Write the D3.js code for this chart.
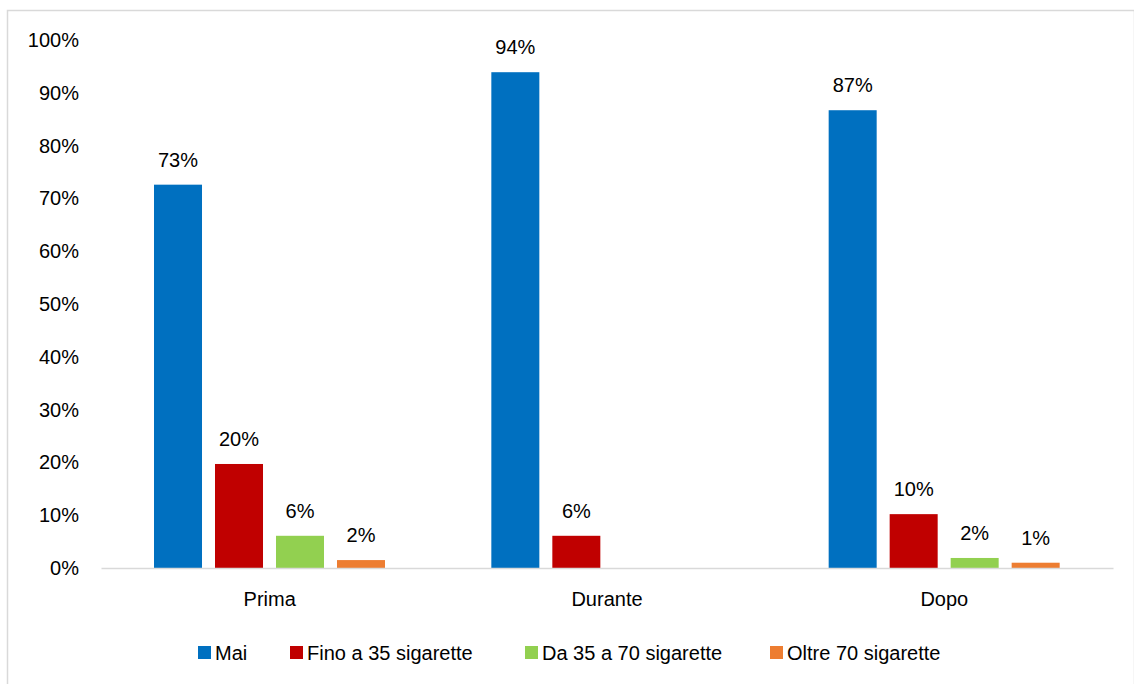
<!DOCTYPE html>
<html>
<head>
<meta charset="utf-8">
<script src="https://cdn.jsdelivr.net/npm/d3@7"></script>
<style>
  html, body { margin: 0; padding: 0; background: #fff; }
  svg { display: block; font-family: "Liberation Sans", Arial, sans-serif; }
</style>
</head>
<body>
<svg id="chart" width="1134" height="684"></svg>
<script>
// Smoking frequency before, during and after (share of respondents)
const categories = ["Prima", "Durante", "Dopo"];
const seriesNames = ["Mai", "Fino a 35 sigarette", "Da 35 a 70 sigarette", "Oltre 70 sigarette"];
const colors = ["#0070C0", "#C00000", "#92D050", "#ED7D31"];
const mai = [0.726, 0.939, 0.867];
const fino35 = [0.197, 0.061, 0.102];
const da35a70 = [0.061, null, 0.019];
const oltre70 = [0.015, null, 0.010];
const yTicks = [0, 0.1, 0.2, 0.3, 0.4, 0.5, 0.6, 0.7, 0.8, 0.9, 1.0];

const seriesValues = [mai, fino35, da35a70, oltre70];

const svg = d3.select("#chart");
const W = 1134, H = 684;
const FONT = 20;

// outer chart frame
svg.append("rect")
  .attr("x", 7.5).attr("y", 10.5)
  .attr("width", W - 7).attr("height", H)
  .attr("fill", "#fff").attr("stroke", "#d9d9d9").attr("stroke-width", 1.5);

const plot = { left: 101, right: 1113, top: 40, bottom: 568 };

const x0 = d3.scaleBand().domain(categories).range([plot.left, plot.right]);
// bars sit in a cluster inside each category band
const clusterStart = 53, clusterWidth = 231;
const x1 = d3.scaleBand().domain(d3.range(seriesNames.length))
  .range([clusterStart, clusterStart + clusterWidth]).paddingInner(0.213).paddingOuter(0);
const y = d3.scaleLinear().domain([0, 1]).range([plot.bottom, plot.top]);

const fmt = d3.format(".0%");

// y axis labels (no line, no ticks)
const yAxis = d3.axisLeft(y).tickValues(yTicks).tickFormat(fmt).tickSize(0).tickPadding(0);
const gy = svg.append("g").attr("transform", `translate(79,0)`).call(yAxis);
gy.select(".domain").remove();
gy.selectAll("text").attr("font-size", FONT).attr("fill", "#000")
  .attr("font-family", "Liberation Sans, Arial, sans-serif");

// bars
const groups = svg.append("g").selectAll("g")
  .data(categories).join("g")
  .attr("transform", d => `translate(${x0(d)},0)`);

groups.each(function(cat, ci) {
  const g = d3.select(this);
  const data = seriesValues.map((vals, si) => ({ si, v: vals[ci] })).filter(d => d.v != null);
  g.selectAll("rect").data(data).join("rect")
    .attr("x", d => x1(d.si))
    .attr("y", d => y(d.v))
    .attr("width", x1.bandwidth())
    .attr("height", d => y(0) - y(d.v))
    .attr("fill", d => colors[d.si]);
  g.selectAll("text").data(data).join("text")
    .attr("x", d => x1(d.si) + x1.bandwidth() / 2)
    .attr("y", d => y(d.v) - 18)
    .attr("text-anchor", "middle")
    .attr("font-size", FONT)
    .attr("fill", "#000")
    .text(d => fmt(d.v));
});

// x axis line and category labels
const xAxis = d3.axisBottom(x0).tickSize(0).tickPadding(0);
const gx = svg.append("g").attr("transform", `translate(0,${plot.bottom})`).call(xAxis);
gx.select(".domain").attr("stroke", "#d9d9d9").attr("stroke-width", 1.5);
gx.selectAll("text").attr("font-size", FONT).attr("fill", "#000")
  .attr("font-family", "Liberation Sans, Arial, sans-serif")
  .attr("y", 31).attr("dy", "0.35em");

// legend
const legendX = [198, 290, 525, 770];
const legend = svg.append("g").attr("transform", "translate(0,653)");
const items = legend.selectAll("g").data(seriesNames).join("g")
  .attr("transform", (d, i) => `translate(${legendX[i]},0)`);
items.append("rect").attr("x", 0).attr("y", -7).attr("width", 13).attr("height", 13)
  .attr("fill", (d, i) => colors[i]);
items.append("text").attr("x", 17).attr("y", 0).attr("dy", "0.35em")
  .attr("font-size", FONT).attr("fill", "#000").text(d => d);
</script>
</body>
</html>
